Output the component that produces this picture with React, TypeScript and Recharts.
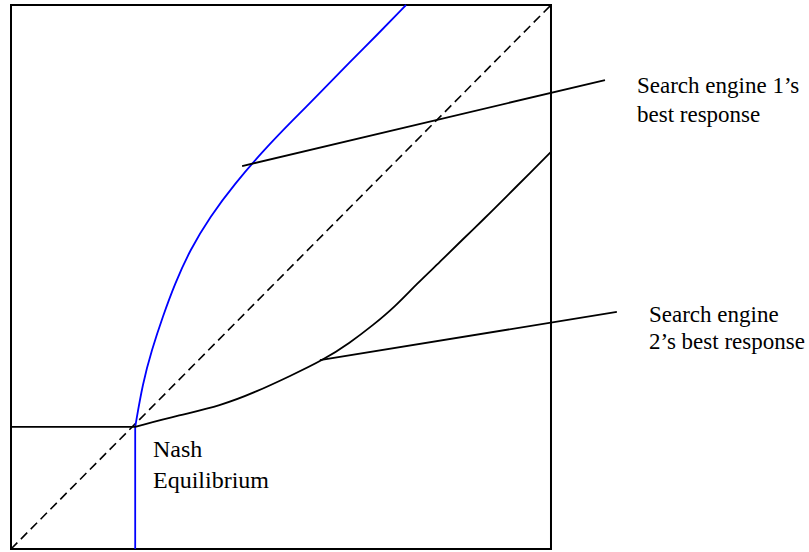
import { LineChart, Line, XAxis, YAxis, ReferenceArea } from 'recharts'

// Best response diagram: both axes run 0..100 inside the box
const diagonal = [
  { x: 0, y: 0 },
  { x: 100, y: 100 },
]

// search engine 1 (blue): vertical stem below the equilibrium, then the curve
const engine1Stem = [
  { x: 23, y: 0 },
  { x: 23, y: 22.45 },
]
const engine1Curve = [
  { x: 23, y: 22.45 },
  { x: 24.39, y: 30.46 },
  { x: 26.06, y: 36.58 },
  { x: 28.09, y: 42.7 },
  { x: 30.37, y: 48.84 },
  { x: 33.15, y: 54.96 },
  { x: 36.85, y: 61.08 },
  { x: 41.48, y: 67.22 },
  { x: 46.85, y: 73.35 },
  { x: 52.04, y: 78.68 },
  { x: 57.41, y: 84.01 },
  { x: 62.59, y: 89.34 },
  { x: 67.96, y: 94.67 },
  { x: 73.15, y: 100 },
]

// search engine 2 (black): flat to the left of the equilibrium, then the curve
const engine2Flat = [
  { x: 0, y: 22.45 },
  { x: 23, y: 22.45 },
]
const engine2Curve = [
  { x: 23, y: 22.45 },
  { x: 31.3, y: 24.63 },
  { x: 38.7, y: 26.29 },
  { x: 45.5, y: 28.92 },
  { x: 51.67, y: 31.8 },
  { x: 57.83, y: 34.74 },
  { x: 62.78, y: 37.92 },
  { x: 67.09, y: 41.18 },
  { x: 71.11, y: 44.54 },
  { x: 75.24, y: 48.84 },
  { x: 79.44, y: 52.76 },
  { x: 83.52, y: 56.8 },
  { x: 87.78, y: 60.85 },
  { x: 91.85, y: 64.89 },
  { x: 96.11, y: 69.12 },
  { x: 100, y: 73.0 },
]

// leader lines to the labels
const pointer1 = [
  { x: 42.8, y: 70.4 },
  { x: 110.0, y: 86.2 },
]
const pointer2 = [
  { x: 57.2, y: 34.7 },
  { x: 112.2, y: 43.6 },
]

// label lines: text, left, top, font size (html overlay on the chart)
const labels: [string, number, number, number][] = [
  ['Search engine 1’s', 637, 73.7, 23],
  ['best response', 637, 102.7, 23],
  ['Search engine', 649, 302.7, 23],
  ['2’s best response', 649, 329.7, 23],
  ['Nash', 153, 436.9, 24],
  ['Equilibrium', 153, 467.9, 24],
]

export default function App() {
  return (
    <div style={{ position: 'absolute', left: 0, top: 0, width: 809, height: 552, background: '#fff' }}>
      <LineChart width={809} height={552} margin={{ top: 5, right: 0, bottom: 3, left: 11 }}>
        <XAxis dataKey="x" type="number" domain={[0, 147.78]} hide />
        <YAxis type="number" domain={[0, 100]} hide />
        <ReferenceArea x1={0} x2={100} y1={0} y2={100} fill="none" stroke="#000" strokeWidth={2} fillOpacity={0} />
        <Line data={diagonal} dataKey="y" type="linear" stroke="#000" strokeWidth={1.6} strokeDasharray="9 5" dot={false} isAnimationActive={false} />
        <Line data={engine1Stem} dataKey="y" type="linear" stroke="#0000ff" strokeWidth={1.8} dot={false} isAnimationActive={false} />
        <Line data={engine1Curve} dataKey="y" type="basis" stroke="#0000ff" strokeWidth={1.8} dot={false} isAnimationActive={false} />
        <Line data={engine2Flat} dataKey="y" type="linear" stroke="#000" strokeWidth={1.8} dot={false} isAnimationActive={false} />
        <Line data={engine2Curve} dataKey="y" type="basis" stroke="#000" strokeWidth={1.8} dot={false} isAnimationActive={false} />
        <Line data={pointer1} dataKey="y" type="linear" stroke="#000" strokeWidth={1.8} dot={false} isAnimationActive={false} />
        <Line data={pointer2} dataKey="y" type="linear" stroke="#000" strokeWidth={1.8} dot={false} isAnimationActive={false} />
      </LineChart>
      {labels.map(([t, left, top, size]) => (
        <div
          key={t}
          style={{
            position: 'absolute',
            left,
            top,
            fontFamily: 'Liberation Serif',
            fontSize: size,
            lineHeight: `${size}px`,
            whiteSpace: 'nowrap',
            color: '#000',
          }}
        >
          {t}
        </div>
      ))}
    </div>
  )
}
